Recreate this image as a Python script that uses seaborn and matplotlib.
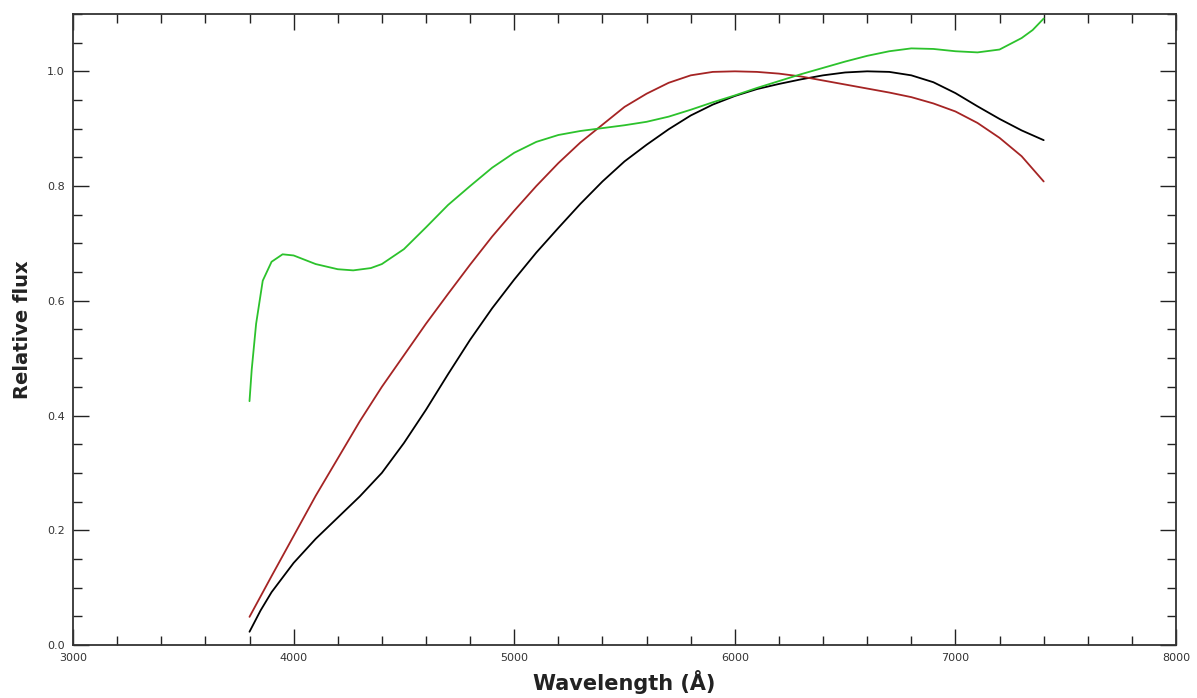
# Relative flux spectra, three smooth curves
import numpy as np
import pandas as pd
import seaborn as sns
import matplotlib.pyplot as plt
from matplotlib.ticker import MultipleLocator

# Data, here
green_wave = [3800, 3810, 3830, 3860, 3900, 3950, 4000, 4100, 4200, 4270, 4350, 4400, 4500,
              4600, 4700, 4800, 4900, 5000, 5100, 5200, 5300, 5400, 5500, 5600, 5700, 5800,
              5900, 6000, 6100, 6200, 6300, 6400, 6500, 6600, 6700, 6800, 6900, 7000, 7100,
              7200, 7300, 7350, 7400]
green_flux = [0.425, 0.480, 0.560, 0.635, 0.668, 0.681, 0.679, 0.664, 0.655, 0.653, 0.657, 0.664, 0.690,
              0.728, 0.767, 0.800, 0.832, 0.858, 0.877, 0.889, 0.896, 0.901, 0.906, 0.912, 0.921, 0.933,
              0.946, 0.958, 0.971, 0.983, 0.995, 1.006, 1.017, 1.027, 1.035, 1.040, 1.039, 1.035, 1.033,
              1.038, 1.058, 1.072, 1.092]

red_wave = [3800, 3900, 4000, 4100, 4200, 4300, 4400, 4500, 4600, 4700, 4800, 4900, 5000,
            5100, 5200, 5300, 5400, 5500, 5600, 5700, 5800, 5900, 6000, 6100, 6200, 6300,
            6400, 6500, 6600, 6700, 6800, 6900, 7000, 7100, 7200, 7300, 7400]
red_flux = [0.049, 0.120, 0.190, 0.260, 0.325, 0.390, 0.450, 0.505, 0.560, 0.612, 0.663, 0.712, 0.757,
            0.800, 0.840, 0.876, 0.907, 0.938, 0.961, 0.980, 0.993, 0.999, 1.000, 0.999, 0.996, 0.991,
            0.984, 0.977, 0.970, 0.963, 0.955, 0.944, 0.930, 0.910, 0.884, 0.852, 0.808]

black_wave = [3800, 3850, 3900, 4000, 4100, 4200, 4300, 4400, 4500, 4600, 4700, 4800, 4900,
              5000, 5100, 5200, 5300, 5400, 5500, 5600, 5700, 5800, 5900, 6000, 6100, 6200,
              6300, 6400, 6500, 6600, 6700, 6800, 6900, 7000, 7100, 7200, 7300, 7400]
black_flux = [0.023, 0.060, 0.092, 0.143, 0.185, 0.222, 0.259, 0.300, 0.352, 0.410, 0.472, 0.532, 0.587,
              0.637, 0.684, 0.727, 0.769, 0.808, 0.843, 0.872, 0.899, 0.923, 0.942, 0.957, 0.969, 0.978,
              0.986, 0.993, 0.998, 1.000, 0.999, 0.993, 0.981, 0.962, 0.939, 0.917, 0.897, 0.880]

x_ticks = [3000, 4000, 5000, 6000, 7000, 8000]
y_ticks = [0.0, 0.2, 0.4, 0.6, 0.8, 1.0]

sns.set_theme(style="ticks")
plt.rcParams['font.family'] = ['DejaVu Sans']

fig = plt.figure(figsize=(11.97, 6.98), dpi=100)
ax = fig.add_axes([0.061, 0.076, 0.9215, 0.904])

sns.lineplot(x=black_wave, y=black_flux, color="black", linewidth=1.3, ax=ax)
sns.lineplot(x=red_wave, y=red_flux, color="#a52424", linewidth=1.3, ax=ax)
sns.lineplot(x=green_wave, y=green_flux, color="#2cc22c", linewidth=1.3, ax=ax)

ax.set_xlim(3000, 8000)
ax.set_ylim(0.0, 1.1)
ax.set_xticks(x_ticks)
ax.set_yticks(y_ticks)
ax.set_xticklabels([str(t) for t in x_ticks])
ax.set_yticklabels(["%.1f" % t for t in y_ticks])
ax.xaxis.set_minor_locator(MultipleLocator(200))
ax.yaxis.set_minor_locator(MultipleLocator(0.05))

ax.tick_params(which="both", direction="in", top=True, right=True, width=1.0, color="#222222",
               labelsize=8, labelcolor="#333333")
ax.tick_params(which="major", length=11.5, pad=6)
ax.tick_params(which="minor", length=6.5)
for side in ax.spines.values():
    side.set_linewidth(1.3)
    side.set_color("#333333")

ax.set_xlabel("Wavelength (Å)", fontsize=15, fontweight="bold", color="#222222", labelpad=5)
ax.set_ylabel("Relative flux", fontsize=14, fontweight="bold", color="#222222", labelpad=11)

fig.savefig("out.png", dpi=100)
